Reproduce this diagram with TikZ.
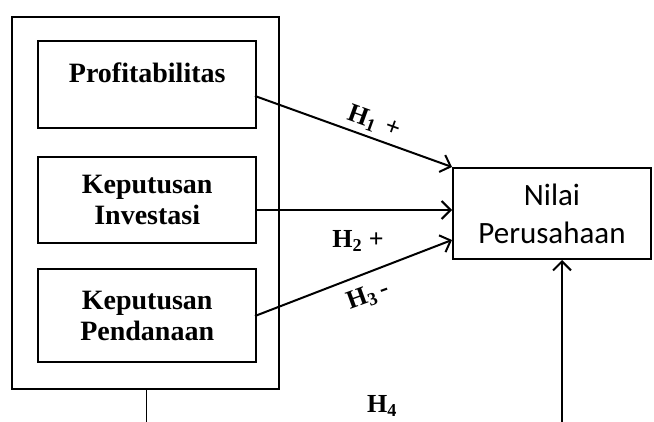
\documentclass[tikz,border=0pt]{standalone}
\usepackage{fontspec}
\setmainfont{Liberation Serif}
\newfontfamily\calib{Carlito}
\usetikzlibrary{arrows.meta}
\begin{document}
\begin{tikzpicture}[x=1pt,y=-1pt,
  varbox/.style={draw,line width=2.4pt,font=\fontsize{28}{31}\selectfont\bfseries,align=center,inner sep=0pt},
  outbox/.style={draw,line width=2.4pt,inner sep=0pt},
  arr/.style={line width=2pt,-{Straight Barb[length=9pt,width=18pt,line width=2pt]}},
  lbl/.style={font=\fontsize{26}{28}\selectfont\bfseries}]
\useasboundingbox (0,0) rectangle (654,422);
\node[outbox,minimum width=267pt,minimum height=372pt,anchor=north west] (outer) at (11,16) {};
\node[varbox,minimum width=218pt,minimum height=87pt,text depth=24pt,anchor=north west] (p) at (37,40) {Profitabilitas};
\node[varbox,minimum width=218pt,minimum height=86pt,anchor=north west] (i) at (37,156) {Keputusan\\Investasi};
\node[varbox,minimum width=218pt,minimum height=93pt,anchor=north west] (d) at (37,268) {Keputusan\\Pendanaan};
\node[draw,line width=2pt,minimum width=198pt,minimum height=91pt,anchor=north west,align=center,font=\calib\fontsize{31}{38}\selectfont] (n) at (452,167) {Nilai\\Perusahaan};
\coordinate (s1) at (255,96);
\coordinate (e1) at (452,167);
\coordinate (s2) at (255,210);
\coordinate (e2) at (452,210);
\coordinate (s3) at (255,316);
\coordinate (e3) at (452,240);
\draw[arr] (s1) -- (e1);
\draw[arr] (s2) -- (e2);
\draw[arr] (s3) -- (e3);
\coordinate (b4) at (562,422);
\draw[arr] (b4) -- (n.south -| b4);
\coordinate (o4) at (146,422);
\draw[line width=1pt] (outer.south -| o4) -- (o4);
\node[lbl,rotate=-20] (h1) at (374,122) {H\textsubscript{1}\hspace{0.35em}+};
\node[lbl] (h2) at (358,241) {H\textsubscript{2} +};
\node[lbl,rotate=20] (h3) at (368,296) {H\textsubscript{3}\,-};
\node[lbl] (h4) at (382,406) {H\textsubscript{4}};
\end{tikzpicture}
\end{document}
